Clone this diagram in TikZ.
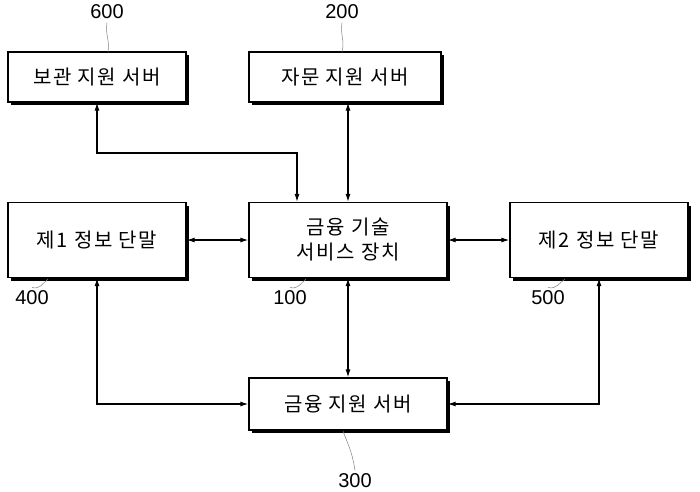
\documentclass[tikz,border=0pt]{standalone}
\usepackage{fontspec}
\setmainfont{Liberation Sans}
\newfontfamily\kor[LetterSpace=8]{Noto Sans CJK KR}
\usetikzlibrary{arrows.meta,shadows}

\tikzset{
  unitbox/.style={draw, line width=1.2pt, fill=white, align=center,
    font=\kor\fontsize{20}{25}\selectfont,
    drop shadow={shadow xshift=3pt, shadow yshift=-3pt, fill=black, opacity=1}},
  link/.style={line width=1.2pt, {Latex[length=8pt,width=5pt]}-{Latex[length=8pt,width=5pt]}},
  refnum/.style={font=\fontsize{20}{22}\selectfont},
  leader/.style={gray, line width=0.5pt}
}

\begin{document}
\begin{tikzpicture}[x=1pt,y=-1pt]
    \useasboundingbox (0,0) rectangle (700,491);

    % boxes
    \node[unitbox, minimum width=178pt, minimum height=50pt] (keep) at (97,77) {보관 지원 서버};
    \node[unitbox, minimum width=192pt, minimum height=50pt] (advice) at (345,77) {자문 지원 서버};
    \node[unitbox, minimum width=178pt, minimum height=75pt] (term1) at (97,240) {제1 정보 단말};
    \node[unitbox, minimum width=198pt, minimum height=75pt] (core) at (348,240) {금융 기술\\서비스 장치};
    \node[unitbox, minimum width=178pt, minimum height=75pt] (term2) at (599,240) {제2 정보 단말};
    \node[unitbox, minimum width=198pt, minimum height=52pt] (fin) at (348,404) {금융 지원 서버};

    % reference numbers
    \node[refnum] (n600) at (107,12) {600};
    \node[refnum] (n200) at (342,12) {200};
    \node[refnum] (n400) at (32,298) {400};
    \node[refnum] (n100) at (290,298) {100};
    \node[refnum] (n500) at (548,298) {500};
    \node[refnum] (n300) at (355,481) {300};
    \draw[leader] (n600.south) .. controls (105,35) and (110,40) .. (108,52);
    \draw[leader] (n200.south) .. controls (340,35) and (345,40) .. (342,52);
    \draw[leader] (n400.north) .. controls (40,290) and (44,282) .. (48,279);
    \draw[leader] (n100.north) .. controls (298,290) and (302,282) .. (306,279);
    \draw[leader] (n500.north) .. controls (556,290) and (560,282) .. (565,279);
    \draw[leader] (n300.north) .. controls (352,450) and (346,440) .. (343,431);

    % connectors
    \coordinate (bend) at (297,153);
    \draw[link] (keep.south) |- (bend) -- (bend |- core.north);
    \draw[link] (advice.south -| core.north) -- (core.north);
    \draw[link] (term1) -- (core);
    \draw[link] (core) -- (term2);
    \draw[link] (core) -- (fin);
    \draw[link] (term1.south) |- (fin.west);
    \draw[link] (term2.south) |- (fin.east);
\end{tikzpicture}
\end{document}
